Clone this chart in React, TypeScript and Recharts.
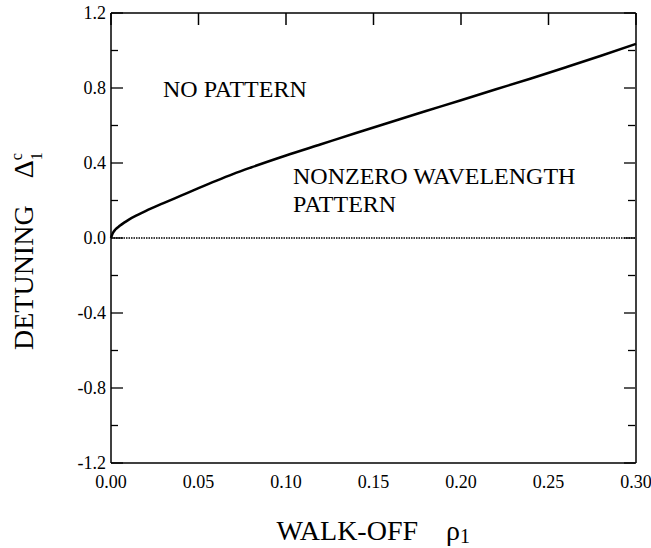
import React from "react";
import {
  LineChart,
  Line,
  XAxis,
  YAxis,
  ReferenceLine,
  ReferenceDot,
} from "recharts";

// walk-off rho_1 and critical detuning Delta_1^c
const rho = [
  0, 0.001, 0.0025, 0.005, 0.0075, 0.01, 0.015, 0.02, 0.03, 0.04, 0.05, 0.06,
  0.07, 0.08, 0.1, 0.12, 0.14, 0.16, 0.18, 0.2, 0.22, 0.24, 0.26, 0.28, 0.3,
];
const detuning = [
  0, 0.025, 0.045, 0.065, 0.082, 0.097, 0.122, 0.145, 0.186, 0.226, 0.266,
  0.305, 0.342, 0.376, 0.44, 0.5, 0.56, 0.619, 0.677, 0.735, 0.793, 0.851,
  0.911, 0.972, 1.035,
];

const xTicks = [0, 0.05, 0.1, 0.15, 0.2, 0.25, 0.3];
const yTicks = [-1.2, -1.0, -0.8, -0.6, -0.4, -0.2, 0, 0.2, 0.4, 0.6, 0.8, 1.0, 1.2];

const regionLabels = [
  { x: 0.0297, y: 0.752, text: "NO PATTERN" },
  { x: 0.104, y: 0.288, text: "NONZERO WAVELENGTH" },
  { x: 0.104, y: 0.139, text: "PATTERN" },
];

const data = rho.map((r, i) => ({ x: r, y: detuning[i] }));

const CHART_W = 651;
const CHART_H = 548;
const MARGIN_RIGHT = 14;
const RIGHT_AXIS_W = 1;
const Y_TICK_MARGIN = 5;
const X_MAX = 0.3;
const Y_MAX = 1.2;

const FONT = "'Liberation Serif', 'DejaVu Serif', serif";

const isMajor = (v: number) => Math.round(v * 10) % 4 === 0;

function LeftTick(props: any) {
  const { x, y, payload } = props;
  const v = payload.value;
  const major = isMajor(v);
  const plotLeft = x + Y_TICK_MARGIN;
  const plotWidth = CHART_W - MARGIN_RIGHT - RIGHT_AXIS_W - plotLeft;
  return (
    <g>
      {major && (
        <text
          x={x}
          y={y}
          dy="0.355em"
          textAnchor="end"
          fontSize={18}
          fontFamily={FONT}
          fill="#000"
        >
          {v.toFixed(1)}
        </text>
      )}
      <line
        x1={plotLeft}
        x2={plotLeft + (major ? 12 : 7)}
        y1={y}
        y2={y}
        stroke="#000"
        strokeWidth={1.3}
      />
      {/* the top edge of the frame carries the inward x ticks */}
      {v === Y_MAX &&
        xTicks.map((t) => {
          const px = plotLeft + (t / X_MAX) * plotWidth;
          return (
            <line
              key={t}
              x1={px}
              x2={px}
              y1={y}
              y2={y + 12}
              stroke="#000"
              strokeWidth={1.5}
            />
          );
        })}
    </g>
  );
}

function RightTick(props: any) {
  const { x, y, payload } = props;
  const major = isMajor(payload.value);
  // x sits one pixel right of the frame (axis width 1)
  return (
    <line x1={x - 1} x2={x - 1 - (major ? 11 : 7)} y1={y} y2={y} stroke="#000" strokeWidth={1.3} />
  );
}

function YTitle(props: any) {
  const vb = props.viewBox;
  const bx = vb.x + 33;
  const by = vb.y + vb.height / 2 + 112;
  return (
    <text
      x={bx}
      y={by}
      transform={`rotate(-90 ${bx} ${by})`}
      fontSize={28}
      fontFamily={FONT}
      fill="#000"
    >
      DETUNING
      <tspan dx={27}>Δ</tspan>
      <tspan fontSize={16} dy={-11}>c</tspan>
      <tspan fontSize={16} dx={-7} dy={20}>1</tspan>
    </text>
  );
}

function XTitle(props: any) {
  const vb = props.viewBox;
  const sx = vb.x + vb.width / 2 - 97;
  const by = vb.y + 77;
  return (
    <text x={sx} y={by} fontSize={28} fontFamily={FONT} fill="#000">
      WALK-OFF
      <tspan dx={28}>ρ</tspan>
      <tspan fontSize={20} dy={3}>1</tspan>
    </text>
  );
}

function RegionText(text: string) {
  return (props: any) => {
    const vb = props.viewBox;
    return (
      <text x={vb.x} y={vb.y} fontSize={24} fontFamily={FONT} fill="#000">
        {text}
      </text>
    );
  };
}

export default function App() {
  return (
    <div
      style={{
        position: "absolute",
        left: 0,
        top: 0,
        width: CHART_W,
        height: CHART_H,
        background: "#fff",
        fontFamily: FONT,
      }}
    >
      <LineChart
        width={CHART_W}
        height={CHART_H}
        data={data}
        margin={{ top: 12, right: MARGIN_RIGHT, bottom: 0, left: 0 }}
      >
        <XAxis
          xAxisId="b"
          dataKey="x"
          type="number"
          domain={[0, X_MAX]}
          ticks={xTicks}
          tickFormatter={(v: number) => v.toFixed(2)}
          tickLine={false}
          tickSize={0}
          tickMargin={12}
          height={85}
          axisLine={{ stroke: "#000", strokeWidth: 1.5 }}
          tick={{ fontSize: 18, fontFamily: FONT, fill: "#000" }}
          interval={0}
          label={<XTitle />}
        />
        <XAxis
          xAxisId="t"
          orientation="top"
          dataKey="x"
          type="number"
          domain={[0, X_MAX]}
          height={1}
          tick={false}
          tickLine={false}
          axisLine={{ stroke: "#000", strokeWidth: 1.5 }}
        />
        <YAxis
          yAxisId="l"
          type="number"
          domain={[-Y_MAX, Y_MAX]}
          ticks={yTicks}
          width={111}
          tickLine={false}
          tickSize={0}
          tickMargin={Y_TICK_MARGIN}
          interval={0}
          axisLine={{ stroke: "#000", strokeWidth: 1.5 }}
          tick={<LeftTick />}
          label={<YTitle />}
        />
        <YAxis
          yAxisId="r"
          orientation="right"
          type="number"
          domain={[-Y_MAX, Y_MAX]}
          allowDataOverflow
          ticks={yTicks}
          width={RIGHT_AXIS_W}
          tickLine={false}
          tickSize={0}
          tickMargin={0}
          interval={0}
          axisLine={{ stroke: "#000", strokeWidth: 1.5 }}
          tick={<RightTick />}
        />
        <ReferenceLine
          xAxisId="b"
          yAxisId="l"
          y={0}
          stroke="#000"
          strokeWidth={1.4}
          strokeDasharray="1.5 1"
        />
        {regionLabels.map((l) => (
          <ReferenceDot
            key={l.text}
            xAxisId="b"
            yAxisId="l"
            x={l.x}
            y={l.y}
            r={0}
            stroke="none"
            fill="none"
            label={RegionText(l.text)}
          />
        ))}
        <Line
          xAxisId="b"
          yAxisId="l"
          dataKey="y"
          type="monotone"
          stroke="#000"
          strokeWidth={2.5}
          dot={false}
          isAnimationActive={false}
        />
      </LineChart>
    </div>
  );
}
